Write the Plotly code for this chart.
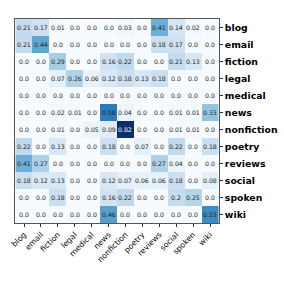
import plotly.graph_objects as go

categories = ["blog", "email", "fiction", "legal", "medical", "news", "nonfiction",
              "poetry", "reviews", "social", "spoken", "wiki"]

row_blog = [0.21, 0.17, 0.01, 0.0, 0.0, 0.0, 0.03, 0.0, 0.41, 0.14, 0.02, 0.0]
row_email = [0.21, 0.44, 0.0, 0.0, 0.0, 0.0, 0.0, 0.0, 0.18, 0.17, 0.0, 0.0]
row_fiction = [0.0, 0.0, 0.29, 0.0, 0.0, 0.16, 0.22, 0.0, 0.0, 0.21, 0.13, 0.0]
row_legal = [0.0, 0.0, 0.07, 0.26, 0.06, 0.12, 0.18, 0.13, 0.18, 0.0, 0.0, 0.0]
row_medical = [0.0, 0.0, 0.0, 0.0, 0.0, 0.0, 0.0, 0.0, 0.0, 0.0, 0.0, 0.0]
row_news = [0.0, 0.0, 0.02, 0.01, 0.0, 0.58, 0.04, 0.0, 0.0, 0.01, 0.01, 0.33]
row_nonfiction = [0.0, 0.0, 0.01, 0.0, 0.05, 0.09, 0.82, 0.0, 0.0, 0.01, 0.01, 0.0]
row_poetry = [0.22, 0.0, 0.13, 0.0, 0.0, 0.18, 0.0, 0.07, 0.0, 0.22, 0.0, 0.18]
row_reviews = [0.41, 0.27, 0.0, 0.0, 0.0, 0.0, 0.0, 0.0, 0.27, 0.04, 0.0, 0.0]
row_social = [0.18, 0.12, 0.13, 0.0, 0.0, 0.12, 0.07, 0.06, 0.06, 0.18, 0.0, 0.08]
row_spoken = [0.0, 0.0, 0.18, 0.0, 0.0, 0.16, 0.22, 0.0, 0.0, 0.2, 0.25, 0.0]
row_wiki = [0.0, 0.0, 0.0, 0.0, 0.0, 0.46, 0.0, 0.0, 0.0, 0.0, 0.0, 0.53]

z = [row_blog, row_email, row_fiction, row_legal, row_medical, row_news,
     row_nonfiction, row_poetry, row_reviews, row_social, row_spoken, row_wiki]
text = [[str(round(v, 2)) for v in row] for row in z]

blues = [[0.0, "#f7fbff"], [0.125, "#deebf7"], [0.25, "#c6dbef"], [0.375, "#9ecae1"],
         [0.5, "#6baed6"], [0.625, "#4292c6"], [0.75, "#2171b5"], [0.875, "#08519c"],
         [1.0, "#08306b"]]

zmax = max(max(r) for r in z)

fig = go.Figure()
fig.add_trace(go.Heatmap(
    z=z, x=categories, y=categories, colorscale=blues, zmin=0, zmax=zmax,
    showscale=False, xgap=0, ygap=0, hoverinfo="skip",
))

for i, row in enumerate(z):
    for j, v in enumerate(row):
        fig.add_annotation(
            x=categories[j], y=categories[i], text=text[i][j], showarrow=False,
            font=dict(family="DejaVu Sans", size=6.2,
                      color="white" if v / zmax > 0.8 else "#222222"),
        )

fig.update_layout(
    width=284, height=284,
    margin=dict(l=15, r=65, t=19, b=61, autoexpand=False),
    paper_bgcolor="white", plot_bgcolor="white",
    font=dict(family="DejaVu Sans", color="black"),
)
fig.update_xaxes(
    automargin=False,
    tickangle=-45, tickfont=dict(size=7.8), ticks="outside", ticklen=3, tickcolor="#333",
    showline=True, linecolor="#555", linewidth=1, mirror=True, showgrid=False,
    zeroline=False,
)
fig.update_yaxes(
    automargin=False,
    side="right", autorange="reversed",
    tickfont=dict(size=9.3, family="DejaVu Sans", weight="bold"),
    ticks="outside", ticklen=3, tickcolor="#333",
    showline=True, linecolor="#555", linewidth=1, mirror=True, showgrid=False,
    zeroline=False,
)

fig.write_html("out.html", config={"displayModeBar": False},
               post_script="document.body.style.margin='0';")
